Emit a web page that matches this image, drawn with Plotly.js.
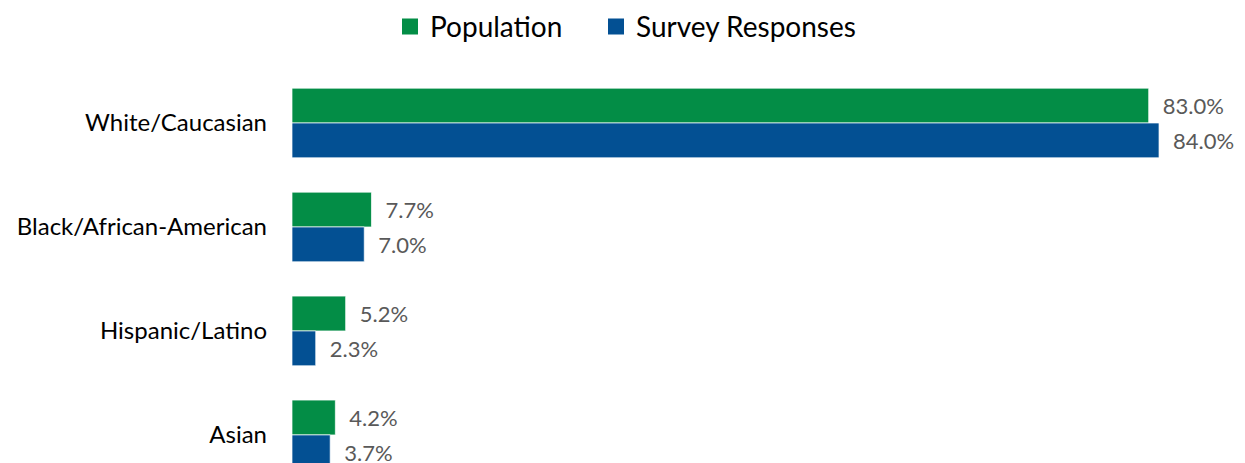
<!DOCTYPE html>
<html>
<head>
<meta charset="utf-8">
<script src="https://cdn.plot.ly/plotly-3.0.1.min.js"></script>
<style>html,body{margin:0;padding:0;background:#fff;}#chart{width:1245px;height:463px;}</style>
</head>
<body>
<div id="chart"></div>
<script>
const categories = ["White/Caucasian", "Black/African-American", "Hispanic/Latino", "Asian"];
const population = [83.0, 7.7, 5.2, 4.2];
const surveyResponses = [84.0, 7.0, 2.3, 3.7];
const seriesNames = ["Population", "Survey Responses"];
const colors = ["#038D46", "#035093"];

const FONT = "Lato, 'Open Sans', sans-serif";

function barTrace(name, values, color) {
  return {
    type: "bar",
    orientation: "h",
    name: name,
    y: categories,
    x: values,
    marker: { color: color, line: { color: "rgba(255,255,255,0.7)", width: 1 } },
    texttemplate: "\u2002%{x:.1f}%",
    textposition: "outside",
    cliponaxis: false,
    textfont: { family: FONT, size: 22, color: "#595959" },
    showlegend: false,
    hoverinfo: "skip"
  };
}
function legendTrace(name, color, legendId) {
  return {
    type: "scatter",
    mode: "markers",
    name: name,
    x: [null],
    y: [null],
    marker: { symbol: "square", size: 18, color: color },
    showlegend: true,
    legend: legendId,
    hoverinfo: "skip"
  };
}

const data = [
  barTrace(seriesNames[0], population, colors[0]),
  barTrace(seriesNames[1], surveyResponses, colors[1]),
  legendTrace(seriesNames[0], colors[0], "legend"),
  legendTrace(seriesNames[1], colors[1], "legend2")
];

function legendBox(xpx) {
  return {
    orientation: "h",
    xref: "container",
    yref: "container",
    x: xpx / 1245,
    xanchor: "left",
    y: 0.942,
    yanchor: "middle",
    font: { family: FONT, size: 28, color: "#000000" },
    itemsizing: "trace"
  };
}

const layout = {
  width: 1245,
  height: 463,
  margin: { l: 292, r: 0, t: 71, b: 0, pad: 0 },
  paper_bgcolor: "#ffffff",
  plot_bgcolor: "#ffffff",
  font: { family: FONT, size: 24, color: "#000000" },
  barmode: "group",
  bargap: 0.33,
  bargroupgap: 0,
  xaxis: {
    range: [0, 92.33],
    showticklabels: false,
    showgrid: false,
    zeroline: false,
    showline: false,
    fixedrange: true
  },
  yaxis: {
    type: "category",
    categoryorder: "array",
    categoryarray: categories,
    range: [3.27, -0.5],
    showgrid: false,
    zeroline: false,
    showline: false,
    ticks: "",
    ticklabelstandoff: 24,
    tickfont: { family: FONT, size: 24, color: "#000000" },
    fixedrange: true
  },
  showlegend: true,
  legend: legendBox(390),
  legend2: legendBox(596)
};

Plotly.newPlot("chart", data, layout, { displayModeBar: false, staticPlot: true });
</script>
</body>
</html>
